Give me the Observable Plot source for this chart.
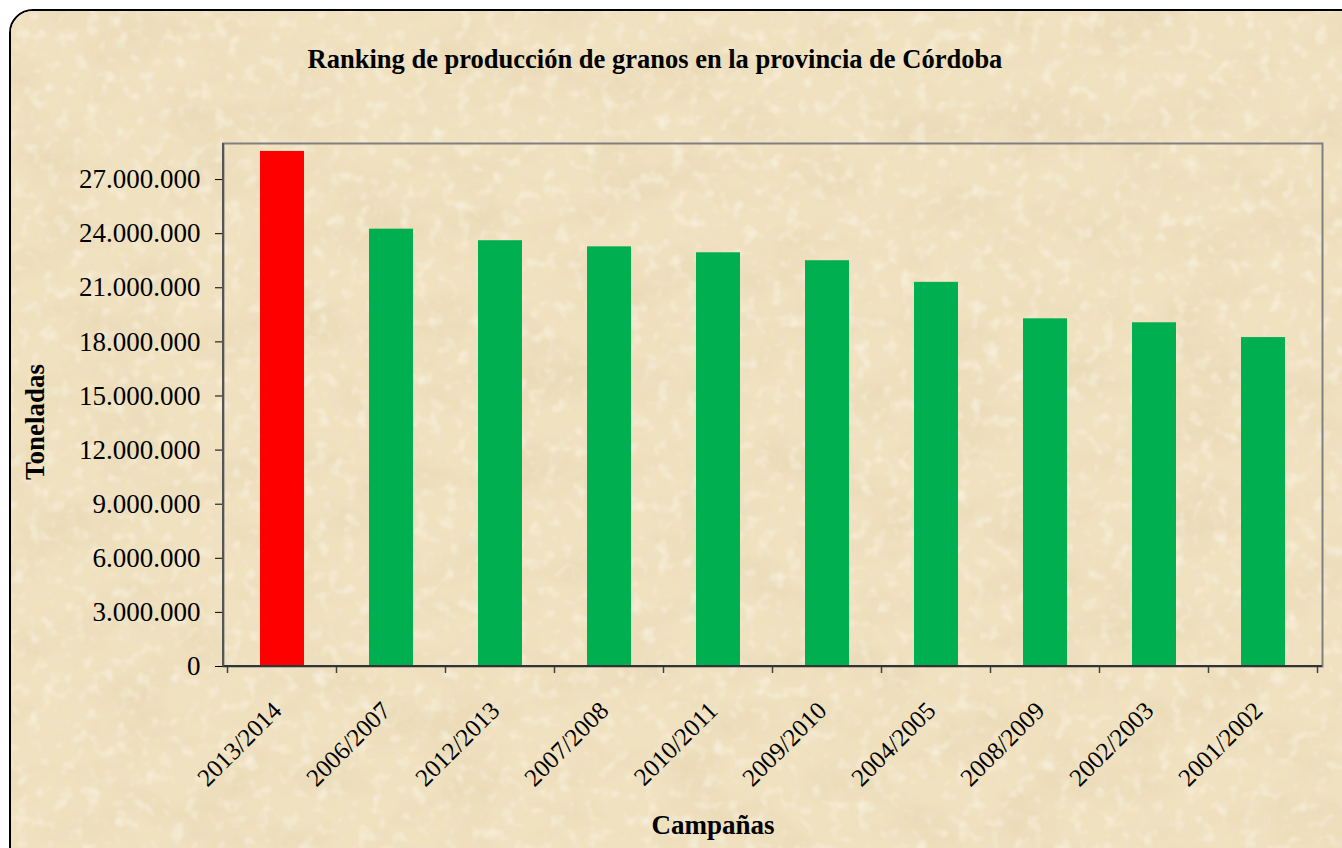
<!DOCTYPE html>
<html>
<head>
<meta charset="utf-8">
<script src="https://cdn.jsdelivr.net/npm/d3@7"></script>
<script src="https://cdn.jsdelivr.net/npm/@observablehq/plot@0.6"></script>
<style>
  html, body { margin: 0; padding: 0; width: 1342px; height: 848px; overflow: hidden; background: #fff; }
  #frame {
    position: absolute; left: 9px; top: 9px; width: 1360px; height: 870px;
    border: 2px solid #000; border-radius: 24px; overflow: hidden; box-sizing: border-box;
  }
  #paper { position: absolute; left: -11px; top: -11px; }
  #title {
    position: absolute; left: -11px; width: 1310px; top: 33px; text-align: center; white-space: nowrap;
    font-family: "Liberation Serif", "Times New Roman", serif; font-weight: bold; font-size: 26.5px; color: #000;
  }
  #chart { position: absolute; left: -11px; top: 89px; width: 1342px; }
</style>
</head>
<body>
<div id="frame">
  <svg id="paper" width="1342" height="848">
    <defs>
      <filter id="blotch" x="0" y="0" width="100%" height="100%">
        <feTurbulence type="fractalNoise" baseFrequency="0.012 0.02" numOctaves="4" seed="7"/>
        <feColorMatrix type="matrix" values="0 0 0 0 0.82  0 0 0 0 0.70  0 0 0 0 0.47  0 0 0 2.2 -0.95"/>
      </filter>
      <filter id="grain" x="0" y="0" width="100%" height="100%">
        <feTurbulence type="fractalNoise" baseFrequency="0.09" numOctaves="3" seed="2"/>
        <feColorMatrix type="matrix" values="0 0 0 0 0.85  0 0 0 0 0.75  0 0 0 0 0.55  0 0 0 1.8 -0.8"/>
      </filter>
      <filter id="light" x="0" y="0" width="100%" height="100%">
        <feTurbulence type="fractalNoise" baseFrequency="0.07" numOctaves="2" seed="11"/>
        <feColorMatrix type="matrix" values="0 0 0 0 0.98  0 0 0 0 0.94  0 0 0 0 0.84  0 0 0 1.6 -0.85"/>
      </filter>
    </defs>
    <rect width="1342" height="848" fill="#F0E1BF"/>
    <rect width="1342" height="848" filter="url(#blotch)"/>
    <rect width="1342" height="848" filter="url(#grain)"/>
    <rect width="1342" height="848" filter="url(#light)"/>
  </svg>
  <div id="title">Ranking de producción de granos en la provincia de Córdoba</div>
  <div id="chart"></div>
</div>
<script>
const campaigns = ["2013/2014","2006/2007","2012/2013","2007/2008","2010/2011","2009/2010","2004/2005","2008/2009","2002/2003","2001/2002"];
const tonnes = [28560000, 24250000, 23610000, 23270000, 22940000, 22500000, 21300000, 19280000, 19060000, 18240000];
const barColors = ["#FF0000","#00B050","#00B050","#00B050","#00B050","#00B050","#00B050","#00B050","#00B050","#00B050"];
const yTicks = [0, 3000000, 6000000, 9000000, 12000000, 15000000, 18000000, 21000000, 24000000, 27000000];
const yMax = 29000000;
const titleY = "Toneladas";
const titleX = "Campañas";

const data = campaigns.map((c, i) => ({campaign: c, value: tonnes[i], color: barColors[i]}));
const esFormat = d3.formatLocale({decimal: ",", thousands: ".", grouping: [3], currency: ["$", ""]}).format(",d");

// category-boundary ticks + axis lines, positioned from the library's scales
function axisLines(index, scales, values, dimensions) {
  const x = scales.x;
  const {width, height, marginLeft, marginRight, marginBottom, marginTop} = dimensions;
  const g = d3.create("svg:g");
  const y0 = height - marginBottom;
  const gap = x.step() - x.bandwidth();
  const bounds = campaigns.map(c => x(c) - gap / 2).concat([x(campaigns[campaigns.length - 1]) + x.bandwidth() + gap / 2]);
  g.selectAll("line.b").data(bounds).join("line")
    .attr("x1", d => d).attr("x2", d => d).attr("y1", y0).attr("y2", y0 + 7)
    .attr("stroke", "#404040").attr("stroke-width", 1.5);
  g.append("line").attr("x1", marginLeft).attr("x2", width - marginRight).attr("y1", y0).attr("y2", y0)
    .attr("stroke", "#333").attr("stroke-width", 2);
  g.append("line").attr("x1", marginLeft).attr("x2", marginLeft).attr("y1", marginTop).attr("y2", y0)
    .attr("stroke", "#555").attr("stroke-width", 2);
  return g.node();
}

const chart = Plot.plot({
  width: 1342,
  height: 759,
  marginTop: 43,
  marginBottom: 193,
  marginLeft: 223,
  marginRight: 20,
  style: {fontFamily: "'Liberation Serif', 'Times New Roman', serif", fontSize: "27px", color: "#000", background: "transparent", overflow: "visible"},
  x: {domain: campaigns, paddingInner: 0.6, paddingOuter: 0.3, label: null, axis: null},
  y: {domain: [0, yMax], ticks: yTicks, tickFormat: esFormat, tickSize: 8, tickPadding: 15, label: null},
  color: {type: "identity"},
  marks: [
    Plot.frame({stroke: "#808080", strokeWidth: 2}),
    Plot.barY(data, {x: "campaign", y: "value", fill: "color"}),
    axisLines,
    Plot.text(campaigns, {x: d => d, frameAnchor: "bottom", textAnchor: "end", lineAnchor: "top", rotate: -45, dx: -12, dy: 33, fontSize: 25, fill: "#000"}),
    Plot.text([titleY], {frameAnchor: "left", textAnchor: "middle", dx: -188, dy: 17, rotate: -90, fontWeight: "bold", fontSize: 27, fill: "#000"}),
    Plot.text([titleX], {frameAnchor: "bottom", dx: -60, dy: 167, fontWeight: "bold", fontSize: 27, fill: "#000"})
  ]
});
document.getElementById("chart").appendChild(chart);
</script>
</body>
</html>
